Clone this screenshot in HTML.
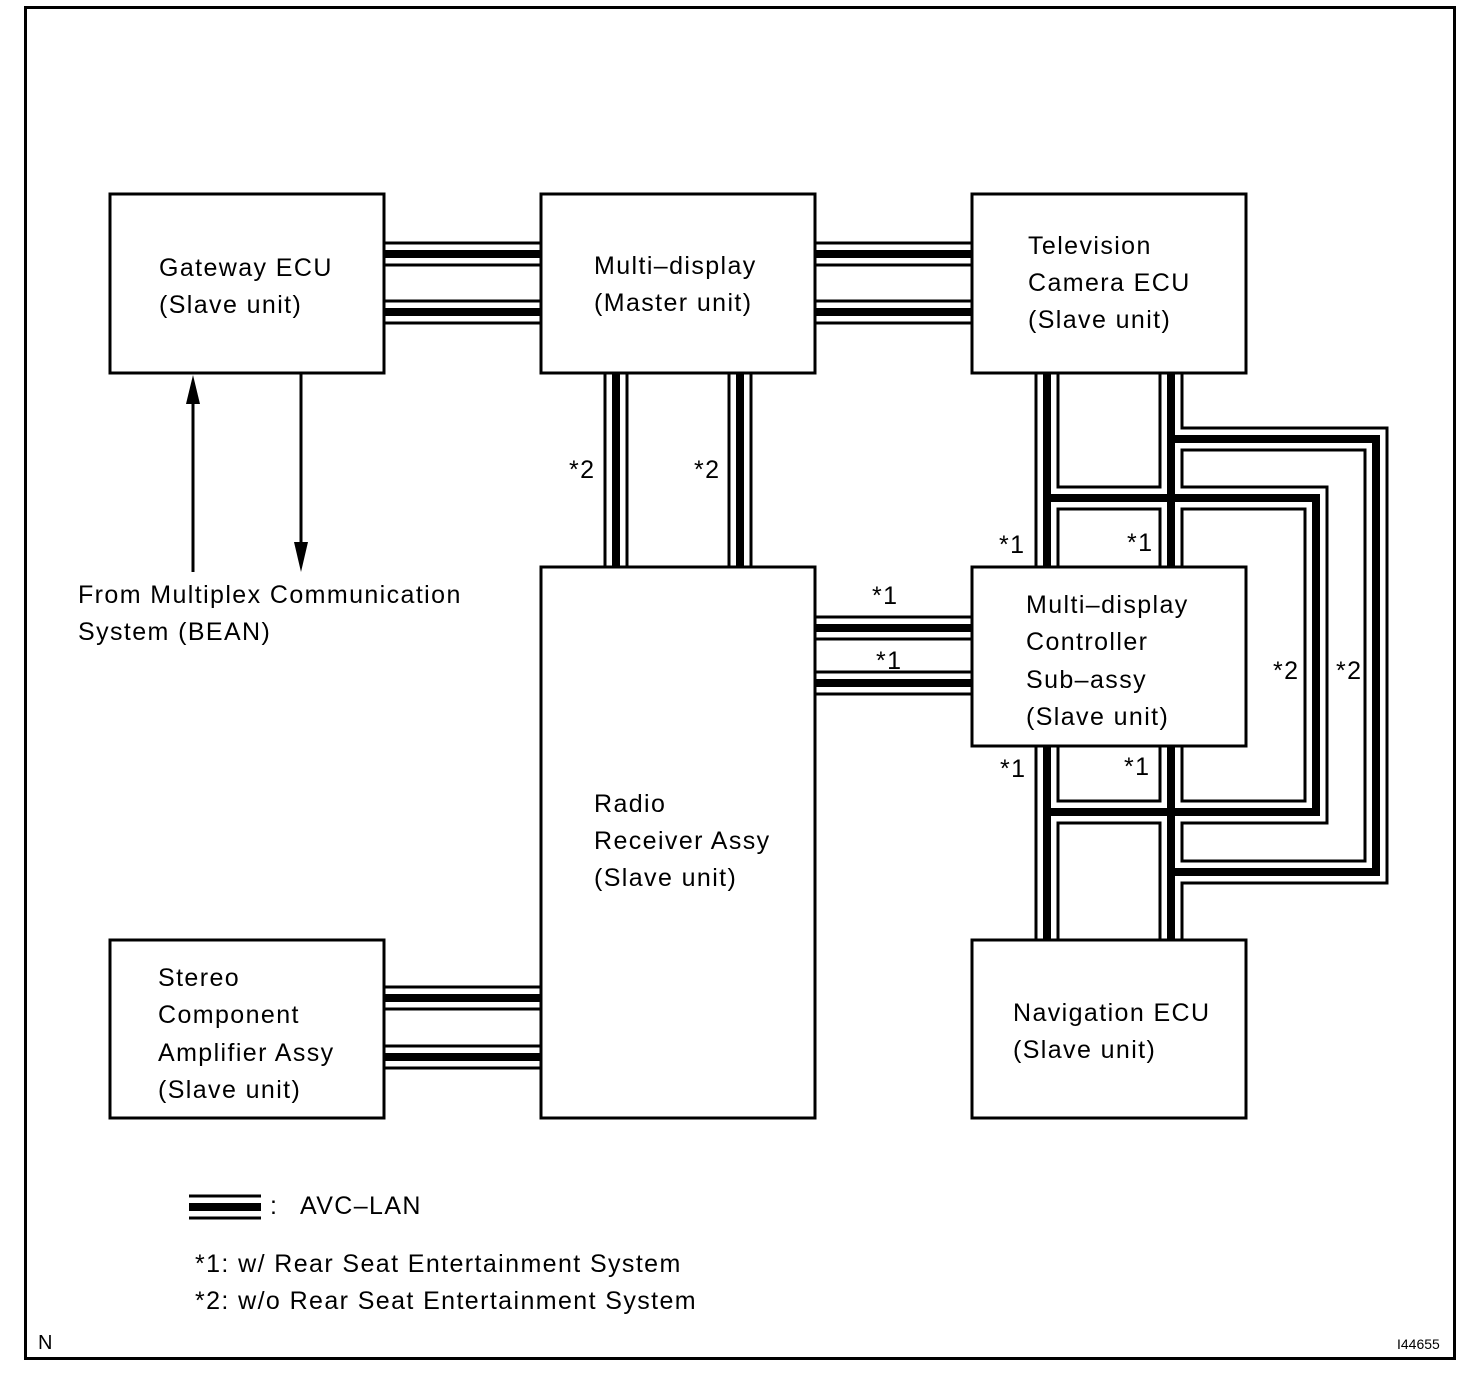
<!DOCTYPE html>
<html><head><meta charset="utf-8"><style>
body{margin:0;background:#fff;}
svg{display:block}
text{font-family:"Liberation Sans",Arial,sans-serif;font-size:25px;fill:#000;letter-spacing:1.4px}
</style></head><body>
<svg width="1472" height="1380" viewBox="0 0 1472 1380" xmlns="http://www.w3.org/2000/svg">
<rect x="25.5" y="7.5" width="1429" height="1351" fill="none" stroke="#000" stroke-width="3"/>
<defs>
<g id="cables">
<path d="M384 254H541M384 312H541M815 254H972M815 312H972"/>
<path d="M616 373V566M740 373V566"/>
<path d="M815 628H972M815 683H972M384 998H541M384 1057H541"/>
<path d="M1047 373V939M1171 373V939"/>
<path d="M1047 498H1316V812H1047"/>
<path d="M1171 439H1376V872H1171"/>
<path d="M189 1207H261"/>
</g>
</defs>
<use href="#cables" stroke="#000" stroke-width="25" fill="none"/>
<use href="#cables" stroke="#fff" stroke-width="19" fill="none"/>
<use href="#cables" stroke="#000" stroke-width="8" fill="none"/>
<g fill="#fff" stroke="#000" stroke-width="3">
<rect x="110" y="194" width="274" height="179"/>
<rect x="541" y="194" width="274" height="179"/>
<rect x="972" y="194" width="274" height="179"/>
<rect x="541" y="567" width="274" height="551"/>
<rect x="972" y="567" width="274" height="179"/>
<rect x="110" y="940" width="274" height="178"/>
<rect x="972" y="940" width="274" height="178"/>
</g>
<g stroke="#000" stroke-width="3">
<line x1="193" y1="400" x2="193" y2="572"/>
<line x1="301" y1="373" x2="301" y2="548"/>
</g>
<polygon points="193,375 186,404 200,404" fill="#000"/>
<polygon points="301,572 294,542 308,542" fill="#000"/>
<text x="159" y="276">Gateway ECU</text>
<text x="159" y="313">(Slave unit)</text>
<text x="594" y="274">Multi–display</text>
<text x="594" y="311">(Master unit)</text>
<text x="1028" y="254">Television</text>
<text x="1028" y="291">Camera ECU</text>
<text x="1028" y="328">(Slave unit)</text>
<text x="1026" y="613">Multi–display</text>
<text x="1026" y="650">Controller</text>
<text x="1026" y="688">Sub–assy</text>
<text x="1026" y="725">(Slave unit)</text>
<text x="594" y="812">Radio</text>
<text x="594" y="849">Receiver Assy</text>
<text x="594" y="886">(Slave unit)</text>
<text x="158" y="986">Stereo</text>
<text x="158" y="1023">Component</text>
<text x="158" y="1061">Amplifier Assy</text>
<text x="158" y="1098">(Slave unit)</text>
<text x="1013" y="1021">Navigation ECU</text>
<text x="1013" y="1058">(Slave unit)</text>
<text x="78" y="603">From Multiplex Communication</text>
<text x="78" y="640">System (BEAN)</text>
<text x="569" y="478">*2</text>
<text x="694" y="478">*2</text>
<text x="872" y="604">*1</text>
<text x="876" y="669">*1</text>
<text x="999" y="553">*1</text>
<text x="1127" y="551">*1</text>
<text x="1000" y="777">*1</text>
<text x="1124" y="775">*1</text>
<text x="1273" y="679">*2</text>
<text x="1336" y="679">*2</text>
<text x="270" y="1214">:</text>
<text x="300" y="1214">AVC–LAN</text>
<text x="195" y="1272">*1: w/ Rear Seat Entertainment System</text>
<text x="195" y="1309">*2: w/o Rear Seat Entertainment System</text>
<text x="38" y="1349" style="font-size:20px;letter-spacing:0">N</text>
<text x="1397" y="1349" style="font-size:14px;letter-spacing:0">I44655</text>
</svg>
</body></html>
